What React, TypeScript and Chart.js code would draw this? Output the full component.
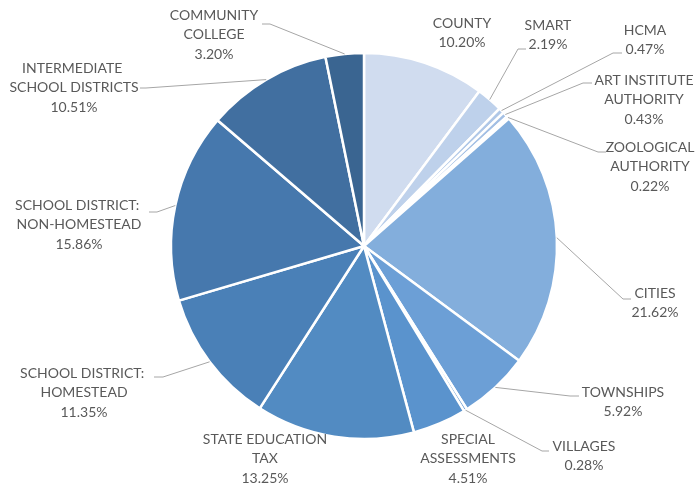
import React, { useEffect, useRef } from "react";
import { Chart, registerables } from "chart.js";

Chart.register(...registerables);

const CATEGORIES = [
  "COUNTY",
  "SMART",
  "HCMA",
  "ART INSTITUTE AUTHORITY",
  "ZOOLOGICAL AUTHORITY",
  "CITIES",
  "TOWNSHIPS",
  "VILLAGES",
  "SPECIAL ASSESSMENTS",
  "STATE EDUCATION TAX",
  "SCHOOL DISTRICT: HOMESTEAD",
  "SCHOOL DISTRICT: NON-HOMESTEAD",
  "INTERMEDIATE SCHOOL DISTRICTS",
  "COMMUNITY COLLEGE",
];

const SHARES = [10.2, 2.19, 0.47, 0.43, 0.22, 21.62, 5.92, 0.28, 4.51, 13.25, 11.35, 15.86, 10.51, 3.2];

const LABEL_LINES = [
  ["COUNTY"],
  ["SMART"],
  ["HCMA"],
  ["ART INSTITUTE", "AUTHORITY"],
  ["ZOOLOGICAL", "AUTHORITY"],
  ["CITIES"],
  ["TOWNSHIPS"],
  ["VILLAGES"],
  ["SPECIAL", "ASSESSMENTS"],
  ["STATE EDUCATION", "TAX"],
  ["SCHOOL DISTRICT: ", "HOMESTEAD"],
  ["SCHOOL DISTRICT: ", "NON-HOMESTEAD"],
  ["INTERMEDIATE ", "SCHOOL DISTRICTS"],
  ["COMMUNITY", "COLLEGE"],
];

const COLORS = [
  "#D0DCEF",
  "#BED1EB",
  "#AFC7E7",
  "#A3BFE4",
  "#94B6E0",
  "#83AEDC",
  "#6C9FD6",
  "#6399D2",
  "#5A93CD",
  "#528BC2",
  "#4A80B7",
  "#4678AD",
  "#416FA0",
  "#3A6591",
];

// Layout: label text centre x, first-line y
const LABEL_POS: [number, number][] = [
  [462, 23],
  [548, 25],
  [645, 30],
  [644, 80],
  [650, 147],
  [655, 293],
  [623, 392],
  [584, 446],
  [468, 439],
  [265, 439],
  [84, 373],
  [79, 205],
  [74, 68],
  [214, 15],
];

// Layout: leader elbow x, elbow y, end x (null = no leader)
const LEADERS: ([number, number, number] | null)[] = [
  null,
  [518, 49, 526],
  [613, 53, 622],
  [583, 83, 592],
  [598, 152, 606],
  [623, 299, 631],
  [570, 396, 579],
  [542, 451, 549],
  null,
  null,
  [163, 377, 154],
  [157, 212, 149],
  [146, 88, 140],
  [270, 24, 262],
];

const LINE_H = 19.5;
const FONT = "14px Lato";

const labelPlugin = {
  id: "pieLabels",
  afterDatasetsDraw(chart: any) {
    const ctx = chart.ctx;
    const meta = chart.getDatasetMeta(0);
    ctx.save();
    meta.data.forEach((arc: any, i: number) => {
      const lead = LEADERS[i];
      if (lead) {
        const mid = (arc.startAngle + arc.endAngle) / 2;
        const r = arc.outerRadius;
        const sx = arc.x + Math.cos(mid) * r;
        const sy = arc.y + Math.sin(mid) * r;
        ctx.beginPath();
        ctx.strokeStyle = "#A6A6A6";
        ctx.lineWidth = 1;
        ctx.moveTo(sx, sy);
        ctx.lineTo(lead[0], lead[1]);
        ctx.lineTo(lead[2], lead[1]);
        ctx.stroke();
      }
      const [x, y] = LABEL_POS[i];
      const lines = [...LABEL_LINES[i], SHARES[i].toFixed(2) + "%"];
      ctx.fillStyle = "#595959";
      ctx.font = FONT;
      ctx.textAlign = "center";
      ctx.textBaseline = "middle";
      lines.forEach((t, k) => ctx.fillText(t, x, y + k * LINE_H));
    });
    ctx.restore();
  },
};

export default function App() {
  const ref = useRef<HTMLCanvasElement | null>(null);
  useEffect(() => {
    if (!ref.current) return;
    const chart = new Chart(ref.current, {
      type: "pie",
      data: {
        labels: CATEGORIES,
        datasets: [
          {
            data: SHARES,
            backgroundColor: COLORS,
            borderColor: "#FFFFFF",
            borderWidth: 2.5,
            radius: 193,
          } as any,
        ],
      },
      options: {
        responsive: false,
        animation: false,
        devicePixelRatio: 1,
        layout: { padding: { left: 40, right: 7, top: 10, bottom: 6 } },
        plugins: {
          legend: { display: false },
          tooltip: { enabled: false },
        },
      },
      plugins: [labelPlugin],
    });
    return () => chart.destroy();
  }, []);
  return (
    <div style={{ position: "absolute", left: 0, top: 0, width: 695, height: 488, background: "#fff" }}>
      <canvas ref={ref} width={695} height={488} />
    </div>
  );
}
